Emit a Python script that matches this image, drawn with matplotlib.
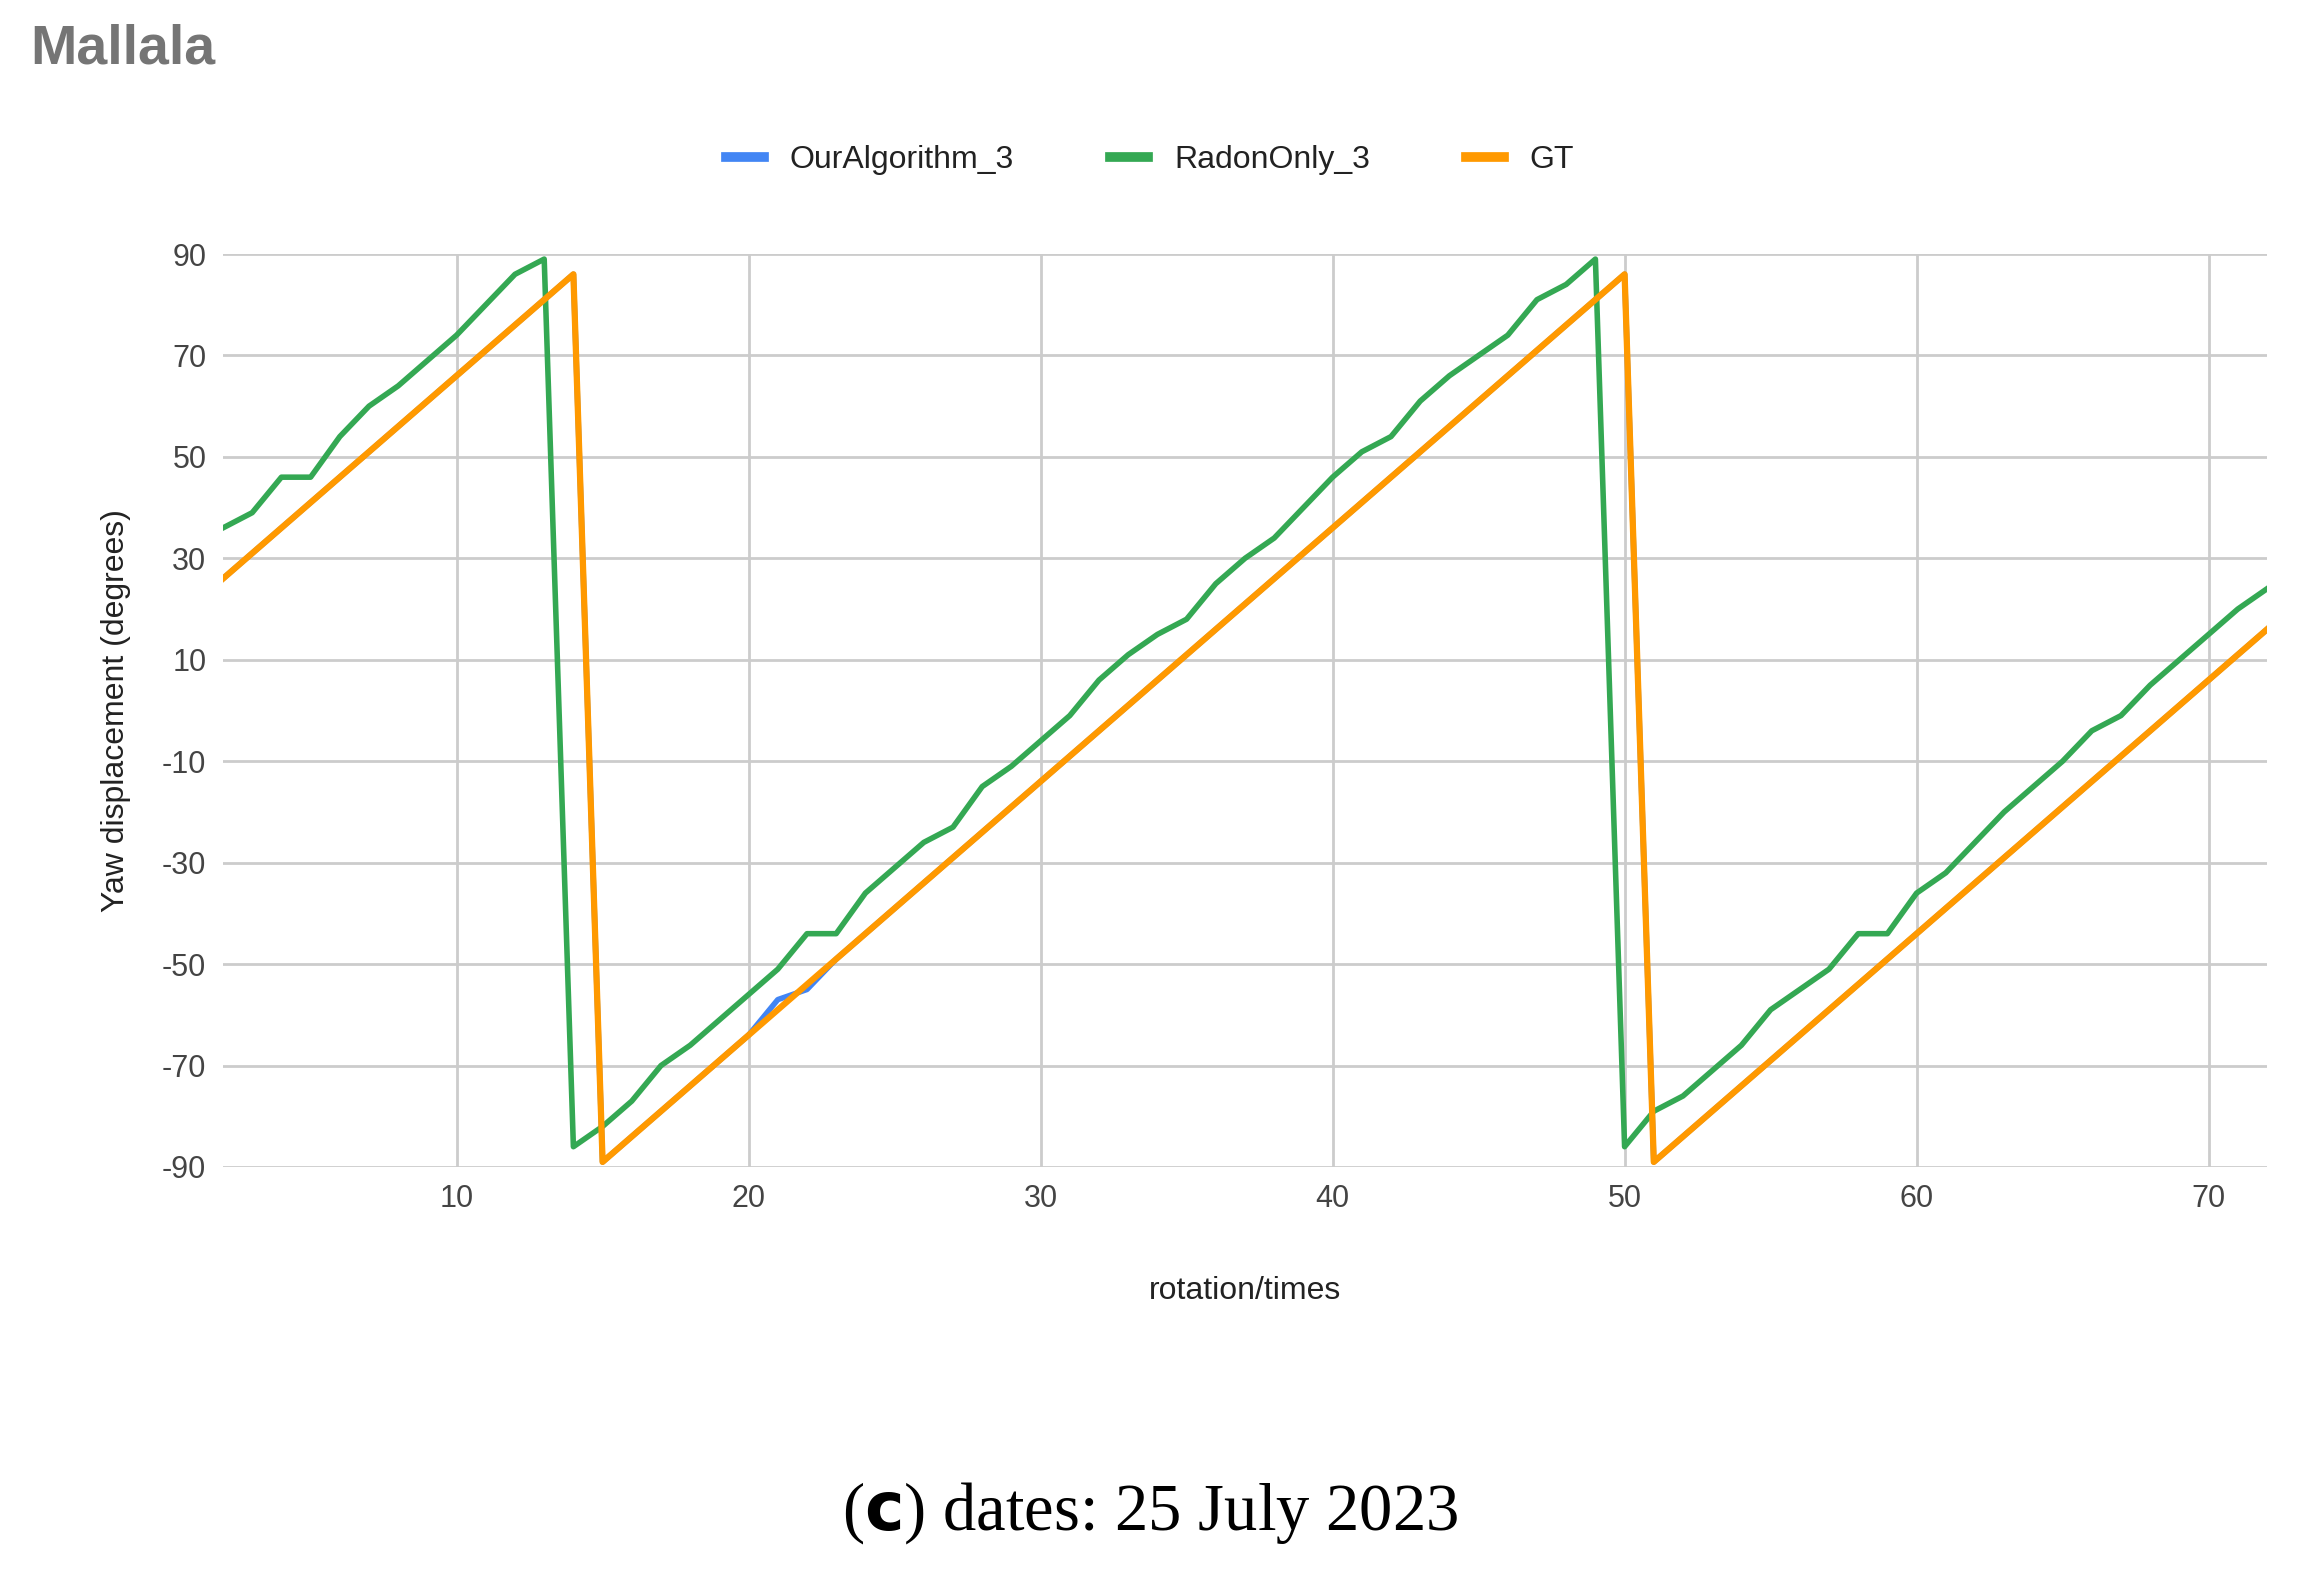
import matplotlib
matplotlib.use("Agg")
import matplotlib.pyplot as plt
from matplotlib.lines import Line2D

plt.rcParams['font.family'] = ['Liberation Sans', 'DejaVu Sans']
plt.rcParams['axes.unicode_minus'] = False

x = list(range(2, 73))
gt = [26, 31, 36, 41, 46, 51, 56, 61, 66, 71, 76, 81, 86,
      -89, -84, -79, -74, -69, -64, -59, -54, -49, -44, -39, -34, -29, -24, -19, -14, -9, -4,
      1, 6, 11, 16, 21, 26, 31, 36, 41, 46, 51, 56, 61, 66, 71, 76, 81, 86,
      -89, -84, -79, -74, -69, -64, -59, -54, -49, -44, -39, -34, -29, -24, -19, -14, -9, -4,
      1, 6, 11, 16]
ours = list(gt)
ours[21 - 2] = -57
ours[22 - 2] = -55
radon = [36, 39, 46, 46, 54, 60, 64, 69, 74, 80, 86, 89,
         -86, -82, -77, -70, -66, -61, -56, -51, -44, -44, -36, -31, -26, -23, -15, -11, -6, -1,
         6, 11, 15, 18, 25, 30, 34, 40, 46, 51, 54, 61, 66, 70, 74, 81, 84, 89,
         -86, -79, -76, -71, -66, -59, -55, -51, -44, -44, -36, -32, -26, -20, -15, -10, -4, -1,
         5, 10, 15, 20, 24]
yticks = [90, 70, 50, 30, 10, -10, -30, -50, -70, -90]
xticks = [10, 20, 30, 40, 50, 60, 70]

fig = plt.figure(figsize=(23.01, 15.84), dpi=100)
ax = fig.add_axes([223/2301, 1-1167/1584, (2267-223)/2301, (1167-254)/1584])
c_blue, c_green, c_orange = "#4285F4", "#34A853", "#FF9900"
ax.plot(x, ours, color=c_blue, lw=4, zorder=3)
ax.plot(x, radon, color=c_green, lw=4, zorder=4)
ax.plot(x, gt, color=c_orange, lw=4.5, zorder=5)
ax.set_xlim(2, 72)
ax.set_ylim(-90, 90)
ax.set_yticks(yticks)
ax.set_xticks(xticks)
ax.grid(True, color="#cccccc", lw=2)
for s in ax.spines.values():
    s.set_visible(False)
ax.tick_params(length=0, labelsize=22, colors="#444444", pad=12)
ax.set_ylabel("Yaw displacement (degrees)", fontsize=23, color="#222222", labelpad=22)
ax.set_xlabel("rotation/times", fontsize=23, color="#222222", labelpad=45)
handles = [Line2D([], [], color=c, lw=7) for c in (c_blue, c_green, c_orange)]
fig.legend(handles, ["OurAlgorithm_3", "RadonOnly_3", "GT"], loc="center",
           bbox_to_anchor=(1150/2301, 1-160/1584), ncol=3, frameon=False,
           fontsize=23, handlelength=1.2, columnspacing=3.0, labelcolor="#222222")
fig.text(30/2301, 1-50/1584, "Mallala", fontsize=40, color="#757575", va="center", fontweight="bold")
fig.text(0.5, 1-1513/1584, r"($\mathbf{c}$) dates: 25 July 2023", fontsize=48, ha="center",
         va="center", family="Liberation Serif")
fig.savefig("out.png", dpi=100)
